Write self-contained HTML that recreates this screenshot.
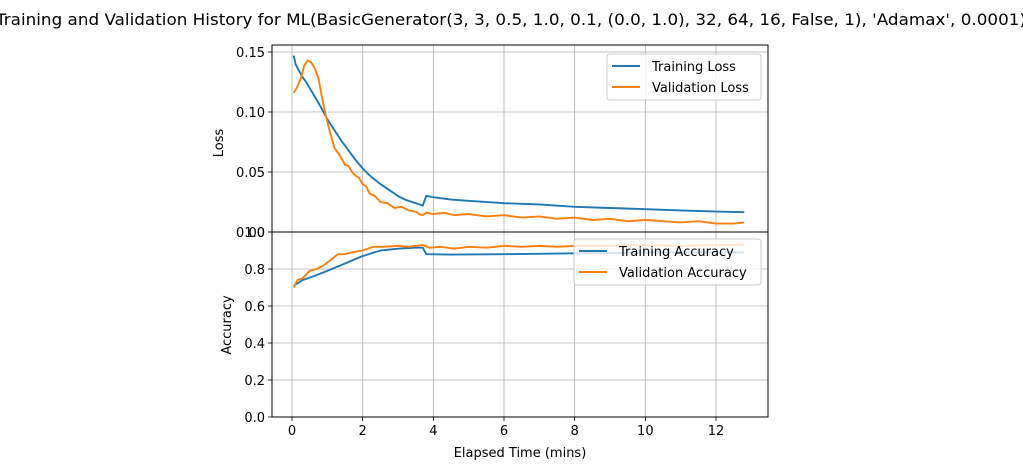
<!DOCTYPE html>
<html><head><meta charset="utf-8"><style>
body{margin:0;background:#fff;}
svg{font-family:"DejaVu Sans","Liberation Sans",sans-serif;}
</style></head><body>
<svg width="1023" height="460" viewBox="0 0 1023 460" xmlns="http://www.w3.org/2000/svg" id="chart">
<text x="511" y="25" font-size="16" text-anchor="middle" textLength="1030" lengthAdjust="spacingAndGlyphs">Training and Validation History for ML(BasicGenerator(3, 3, 0.5, 1.0, 0.1, (0.0, 1.0), 32, 64, 16, False, 1), 'Adamax', 0.0001)</text>
<g id="g"></g>
</svg>
<script>
const xTicks=[0,2,4,6,8,10,12];
const lossTicks=[0.00,0.05,0.10,0.15];
const accTicks=[0.0,0.2,0.4,0.6,0.8,1.0];
const trainLossT=[0.05,0.1,0.15,0.3,0.4,0.6,0.8,1.0,1.2,1.4,1.6,1.8,2.0,2.2,2.5,2.8,3.0,3.2,3.4,3.6,3.7,3.8,4.0,4.5,5,6,7,8,9,10,11,12,12.8];
const trainLoss=[0.147,0.140,0.137,0.129,0.125,0.115,0.105,0.094,0.085,0.076,0.068,0.060,0.053,0.047,0.040,0.034,0.030,0.027,0.025,0.023,0.022,0.030,0.029,0.027,0.026,0.024,0.023,0.021,0.020,0.019,0.018,0.017,0.0165];
const valLossT=[0.05,0.15,0.25,0.35,0.45,0.55,0.65,0.75,0.85,0.95,1.05,1.2,1.35,1.5,1.6,1.7,1.8,1.9,2.0,2.1,2.2,2.35,2.5,2.7,2.9,3.1,3.3,3.5,3.6,3.7,3.8,4.0,4.3,4.6,5.0,5.5,6.0,6.5,7.0,7.5,8.0,8.5,9.0,9.5,10,10.5,11,11.5,12,12.5,12.8];
const valLoss=[0.116,0.121,0.128,0.139,0.143,0.141,0.136,0.128,0.112,0.098,0.086,0.070,0.064,0.056,0.055,0.050,0.047,0.045,0.040,0.038,0.032,0.030,0.025,0.024,0.020,0.021,0.018,0.017,0.015,0.014,0.016,0.015,0.016,0.014,0.015,0.013,0.014,0.012,0.013,0.011,0.012,0.010,0.011,0.009,0.010,0.009,0.008,0.009,0.007,0.007,0.008];
const trainAccT=[0.05,0.3,0.6,1.0,1.5,2.0,2.5,3.0,3.5,3.7,3.8,4.5,6,8,10,12,12.8];
const trainAcc=[0.71,0.74,0.76,0.79,0.83,0.87,0.90,0.91,0.915,0.915,0.88,0.878,0.88,0.885,0.888,0.89,0.89];
const valAccT=[0.05,0.15,0.3,0.5,0.7,0.9,1.1,1.3,1.5,1.7,2.0,2.3,2.6,3.0,3.3,3.7,3.9,4.2,4.6,5.0,5.5,6,6.5,7,7.5,8,9,10,11,12,12.8];
const valAcc=[0.70,0.74,0.75,0.79,0.80,0.82,0.85,0.88,0.88,0.89,0.90,0.92,0.92,0.925,0.92,0.93,0.915,0.92,0.91,0.92,0.915,0.925,0.92,0.925,0.92,0.925,0.925,0.93,0.925,0.93,0.93];
const L=272,R=768,T1=45,B1=232,B2=417;
const X=t=>292+t*(424/12);
const Y1=v=>232-v*1200;
const Y2=v=>417-v*185;
const g=document.getElementById('g');
const NS='http://www.w3.org/2000/svg';
function el(tag,attrs,name){const e=document.createElementNS(NS,tag);for(const k in attrs)e.setAttribute(k,attrs[k]);


g.appendChild(e);return e;}
function txt(x,y,s,anchor,name,size){const e=el('text',{x:x,y:y,'font-size':size||13,'text-anchor':anchor},name);e.textContent=s;return e;}
xTicks.forEach(t=>{el('line',{x1:X(t),x2:X(t),y1:T1,y2:B2,stroke:'#b0b0b0','stroke-width':0.8},'x-grid-line');
 el('line',{x1:X(t),x2:X(t),y1:B2,y2:B2+4,stroke:'#000','stroke-width':0.8},'x-tick');
 txt(X(t),B2+18,String(t),'middle','x-tick-label');});
lossTicks.forEach(v=>{el('line',{x1:L,x2:R,y1:Y1(v),y2:Y1(v),stroke:'#b0b0b0','stroke-width':0.8},'loss-grid-line');
 el('line',{x1:L-4,x2:L,y1:Y1(v),y2:Y1(v),stroke:'#000','stroke-width':0.8},'loss-tick');
 txt(L-7,Y1(v)+5,v.toFixed(2),'end','loss-tick-label');});
accTicks.forEach(v=>{el('line',{x1:L,x2:R,y1:Y2(v),y2:Y2(v),stroke:'#b0b0b0','stroke-width':0.8},'acc-grid-line');
 el('line',{x1:L-4,x2:L,y1:Y2(v),y2:Y2(v),stroke:'#000','stroke-width':0.8},'acc-tick');
 txt(L-7,Y2(v)+5,v.toFixed(1),'end','acc-tick-label');});
function line(ts,vs,Y,c,name){el('polyline',{points:ts.map((t,i)=>X(t)+','+Y(vs[i])).join(' '),fill:'none',stroke:c,'stroke-width':1.9},name);}
line(trainLossT,trainLoss,Y1,'#1f77b4','training-loss-line');
line(valLossT,valLoss,Y1,'#ff7f0e','validation-loss-line');
line(trainAccT,trainAcc,Y2,'#1f77b4','training-accuracy-line');
line(valAccT,valAcc,Y2,'#ff7f0e','validation-accuracy-line');
el('rect',{x:L,y:T1,width:R-L,height:B1-T1,fill:'none',stroke:'#000','stroke-width':1},'loss-axes-frame');
el('rect',{x:L,y:B1,width:R-L,height:B2-B1,fill:'none',stroke:'#000','stroke-width':1},'accuracy-axes-frame');
txt(0,0,'Loss','middle','loss-axis-title').setAttribute('transform','translate(223,143) rotate(-90)');
txt(0,0,'Accuracy','middle','accuracy-axis-title').setAttribute('transform','translate(231,325) rotate(-90)');
txt(520,457,'Elapsed Time (mins)','middle','x-axis-title');
el('rect',{x:607,y:54,width:154,height:46,rx:3,fill:'#fff','fill-opacity':0.8,stroke:'#ccc'},'loss-legend');
el('line',{x1:612,x2:640,y1:66,y2:66,stroke:'#1f77b4','stroke-width':1.9},'legend-swatch-training-loss');
txt(652,71,'Training Loss','start','legend-label-training-loss');
el('line',{x1:612,x2:640,y1:87,y2:87,stroke:'#ff7f0e','stroke-width':1.9},'legend-swatch-validation-loss');
txt(652,92,'Validation Loss','start','legend-label-validation-loss');
el('rect',{x:574,y:239,width:187,height:46,rx:3,fill:'#fff','fill-opacity':0.8,stroke:'#ccc'},'accuracy-legend');
el('line',{x1:579,x2:607,y1:251,y2:251,stroke:'#1f77b4','stroke-width':1.9},'legend-swatch-training-accuracy');
txt(619,256,'Training Accuracy','start','legend-label-training-accuracy');
el('line',{x1:579,x2:607,y1:272,y2:272,stroke:'#ff7f0e','stroke-width':1.9},'legend-swatch-validation-accuracy');
txt(619,277,'Validation Accuracy','start','legend-label-validation-accuracy');
</script>
</body></html>
